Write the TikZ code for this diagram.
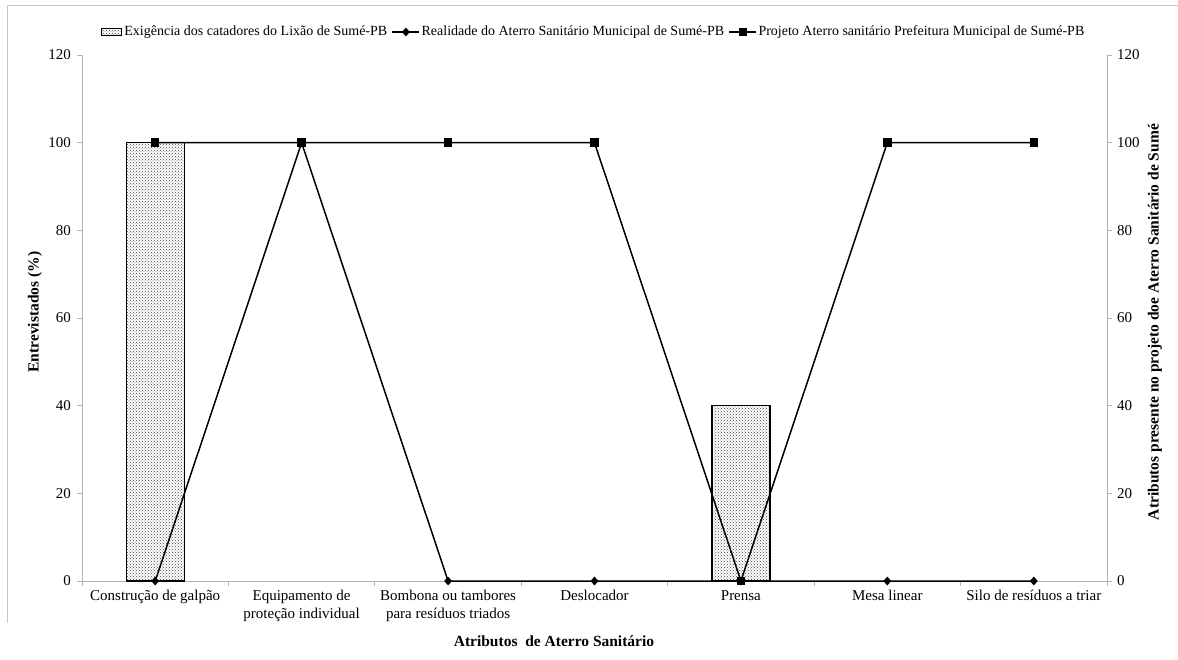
\documentclass[tikz,border=0pt]{standalone}
\usepackage{fontspec}
\setmainfont{Liberation Serif}
\usetikzlibrary{patterns,shapes.geometric,calc}
\begin{document}
\begin{tikzpicture}[x=1pt,y=-1pt,
  every node/.style={inner sep=0pt, font=\fontsize{14}{17}\selectfont},
  frameline/.style={draw=gray!45, line width=1pt},
  axisline/.style={draw=gray!60, line width=1pt},
  barbox/.style={draw=black, line width=1.2pt, pattern=crosshatch dots, pattern color=black!75},
  series/.style={draw=black, line width=1.5pt},
  dmark/.style={diamond, fill=black, minimum width=8pt, minimum height=9pt},
  smark/.style={rectangle, fill=black, minimum size=8.5pt},
  ticklab/.style={font=\fontsize{15}{17}\selectfont},
  cat/.style={anchor=north, align=center, font=\fontsize{15}{17.5}\selectfont},
  axtitle/.style={font=\fontsize{15.5}{18}\selectfont\bfseries},
  legtext/.style={anchor=west, font=\fontsize{14}{17}\selectfont}
]
\useasboundingbox (0,0) rectangle (1178,659);
% frame
\draw[frameline] (7,623) -- (7,5) -- (1178,5);
% axes
\coordinate (o) at (82,581);
\coordinate (lt) at (82,55);
\coordinate (rb) at (1107,581);
\coordinate (rt) at (1107,55);
\draw[axisline] (lt) -- (o) -- (rb) -- (rt);
\foreach \v [evaluate=\v as \yy using 581-\v*4.38333] in {0,20,...,120}{
  \draw[axisline] (77,\yy) -- (82,\yy);
  \draw[axisline] (1107,\yy) -- (1112,\yy);
  \node[ticklab, anchor=east] at (71,\yy) {\v};
  \node[ticklab, anchor=west] at (1117,\yy) {\v};
}
\foreach \k [evaluate=\k as \xx using 82+146.4286*\k] in {0,...,7}{
  \draw[axisline] (\xx,581) -- (\xx,586);
}
% bars
\draw[barbox] (126.2,581) rectangle (184.2,142.7);
\draw[barbox] (711.9,581) rectangle (769.9,405.7);
% data coordinates
\coordinate (r1) at (155.2,581);
\coordinate (r2) at (301.6,142.7);
\coordinate (r3) at (448.1,581);
\coordinate (r4) at (594.5,581);
\coordinate (r5) at (740.9,581);
\coordinate (r6) at (887.3,581);
\coordinate (r7) at (1033.8,581);
\coordinate (p1) at (155.2,142.7);
\coordinate (p2) at (301.6,142.7);
\coordinate (p3) at (448.1,142.7);
\coordinate (p4) at (594.5,142.7);
\coordinate (p5) at (740.9,581);
\coordinate (p6) at (887.3,142.7);
\coordinate (p7) at (1033.8,142.7);
\draw[series] (r1) -- (r2) -- (r3) -- (r4) -- (r5) -- (r6) -- (r7);
\foreach \i in {1,...,7}{ \node[dmark] (rm\i) at (r\i) {}; }
\draw[series] (p1) -- (p2) -- (p3) -- (p4) -- (p5) -- (p6) -- (p7);
\foreach \i in {1,...,7}{ \node[smark] (pm\i) at (p\i) {}; }
% category labels
\node[cat] (c1) at (155.2,590) {Construção de galpão};
\node[cat] (c2) at (301.6,590) {Equipamento de\\proteção individual};
\node[cat] (c3) at (448.1,590) {Bombona ou tambores\\para resíduos triados};
\node[cat] (c4) at (594.5,590) {Deslocador};
\node[cat] (c5) at (740.9,590) {Prensa};
\node[cat] (c6) at (887.3,590) {Mesa linear};
\node[cat] (c7) at (1033.8,590) {Silo de resíduos a triar};
% axis titles
\node[axtitle] (xt) at (554,641) {Atributos\ \ de Aterro Sanitário};
\node[axtitle, rotate=90] (yl) at (35,312) {Entrevistados (\%)};
\node[axtitle, rotate=90] (yr) at (1155,322) {Atributos presente no projeto doe Aterro Sanitário de Sumé};
% legend
\node[barbox, draw, rectangle, minimum width=20pt, minimum height=7pt, anchor=west] (sw) at (101,32) {};
\node[legtext] (l1) at ([xshift=2pt]sw.east) {Exigência dos catadores do Lixão de Sumé-PB};
\coordinate (a1) at ([xshift=5pt]l1.east);
\coordinate (a2) at ([xshift=27pt]a1);
\draw[series] (a1) -- (a2);
\node[dmark] (lm1) at ($(a1)!0.5!(a2)$) {};
\node[legtext] (l2) at ([xshift=2pt]a2) {Realidade do Aterro Sanitário Municipal de Sumé-PB};
\coordinate (b1) at ([xshift=5pt]l2.east);
\coordinate (b2) at ([xshift=27pt]b1);
\draw[series] (b1) -- (b2);
\node[smark] (lm2) at ($(b1)!0.5!(b2)$) {};
\node[legtext] (l3) at ([xshift=2pt]b2) {Projeto Aterro sanitário Prefeitura Municipal de Sumé-PB};
\end{tikzpicture}
\end{document}
